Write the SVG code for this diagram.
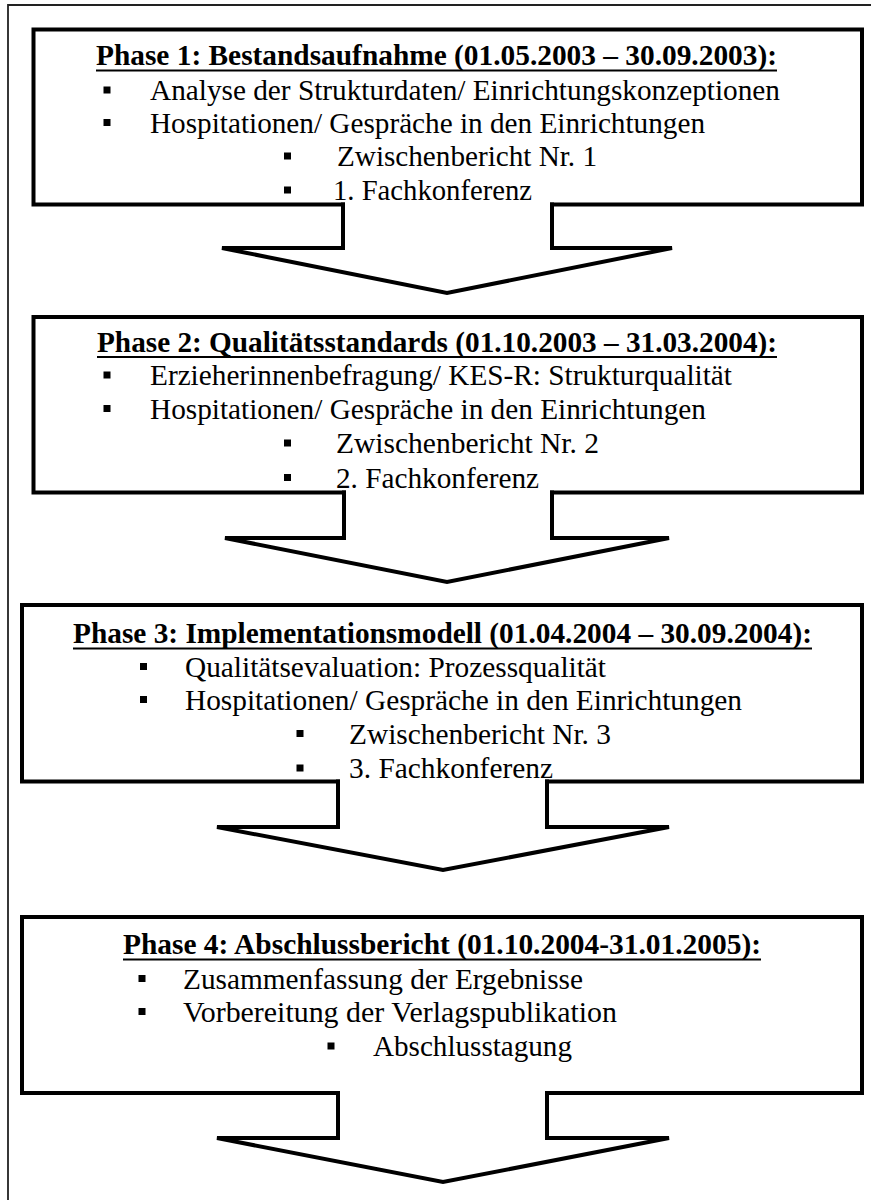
<svg xmlns="http://www.w3.org/2000/svg" width="871" height="1200" viewBox="0 0 871 1200">
<style>
.frame{fill:none;stroke:#222;stroke-width:1.8}
.box{fill:none;stroke:#000;stroke-width:4;stroke-linecap:square;stroke-linejoin:miter}
.arrow{fill:none;stroke:#000;stroke-width:4;stroke-linecap:square;stroke-linejoin:miter}
.t{font-family:"Liberation Serif","Times New Roman",serif;font-size:30px;fill:#000}
.h{font-weight:bold}
.ul{stroke:#000;stroke-width:2}
.b{fill:#000}
</style>
<rect width="871" height="1200" fill="#fff"/>
<path class="frame" d="M8,1200 V5 H871"/>

<g id="phase1">
<path class="box" d="M343,204.5 H33.5 V29.5 H862 V204.5 H552"/>
<text class="t h" x="96" y="65" textLength="681" lengthAdjust="spacingAndGlyphs">Phase 1: Bestandsaufnahme (01.05.2003 – 30.09.2003):</text>
<line class="ul" x1="96" y1="70.5" x2="777" y2="70.5"/>
<rect class="b" x="103.5" y="86.5" width="7" height="7"/>
<text class="t" x="150" y="100" textLength="630" lengthAdjust="spacingAndGlyphs">Analyse der Strukturdaten/ Einrichtungskonzeptionen</text>
<rect class="b" x="103.5" y="119" width="7" height="7"/>
<text class="t" x="150" y="132.5" textLength="555" lengthAdjust="spacingAndGlyphs">Hospitationen/ Gespräche in den Einrichtungen</text>
<rect class="b" x="284" y="152.5" width="7" height="7"/>
<text class="t" x="337" y="166" textLength="260" lengthAdjust="spacingAndGlyphs">Zwischenbericht Nr. 1</text>
<rect class="b" x="284" y="186.5" width="7" height="7"/>
<text class="t" x="333" y="200" textLength="199" lengthAdjust="spacingAndGlyphs">1. Fachkonferenz</text>
</g>

<g id="phase2">
<path class="box" d="M344,492.5 H33.5 V317 H862 V492.5 H552"/>
<text class="t h" x="97" y="351.5" textLength="680" lengthAdjust="spacingAndGlyphs">Phase 2: Qualitätsstandards (01.10.2003 – 31.03.2004):</text>
<line class="ul" x1="97" y1="357" x2="777" y2="357"/>
<rect class="b" x="103.5" y="371.5" width="7" height="7"/>
<text class="t" x="150" y="385" textLength="582" lengthAdjust="spacingAndGlyphs">Erzieherinnenbefragung/ KES-R: Strukturqualität</text>
<rect class="b" x="103.5" y="405" width="7" height="7"/>
<text class="t" x="150" y="418.5" textLength="556" lengthAdjust="spacingAndGlyphs">Hospitationen/ Gespräche in den Einrichtungen</text>
<rect class="b" x="284" y="439.5" width="7" height="7"/>
<text class="t" x="336" y="453" textLength="263" lengthAdjust="spacingAndGlyphs">Zwischenbericht Nr. 2</text>
<rect class="b" x="284" y="474" width="7" height="7"/>
<text class="t" x="336" y="487.5" textLength="203" lengthAdjust="spacingAndGlyphs">2. Fachkonferenz</text>
</g>

<g id="phase3">
<path class="box" d="M338,781.5 H22 V605 H862 V781.5 H547"/>
<text class="t h" x="73" y="643" textLength="739" lengthAdjust="spacingAndGlyphs">Phase 3: Implementationsmodell (01.04.2004 – 30.09.2004):</text>
<line class="ul" x1="73" y1="648.5" x2="812" y2="648.5"/>
<rect class="b" x="140" y="663" width="7" height="7"/>
<text class="t" x="185" y="676.5" textLength="421" lengthAdjust="spacingAndGlyphs">Qualitätsevaluation: Prozessqualität</text>
<rect class="b" x="140" y="696" width="7" height="7"/>
<text class="t" x="185" y="709.5" textLength="557" lengthAdjust="spacingAndGlyphs">Hospitationen/ Gespräche in den Einrichtungen</text>
<rect class="b" x="296.5" y="730" width="7" height="7"/>
<text class="t" x="349" y="743.5" textLength="262" lengthAdjust="spacingAndGlyphs">Zwischenbericht Nr. 3</text>
<rect class="b" x="296.5" y="764.5" width="7" height="7"/>
<text class="t" x="349" y="778" textLength="204" lengthAdjust="spacingAndGlyphs">3. Fachkonferenz</text>
</g>

<g id="phase4">
<path class="box" d="M338,1093 H22 V917 H862 V1093 H547"/>
<text class="t h" x="123" y="954" textLength="638" lengthAdjust="spacingAndGlyphs">Phase 4: Abschlussbericht (01.10.2004-31.01.2005):</text>
<line class="ul" x1="123" y1="959.5" x2="761" y2="959.5"/>
<rect class="b" x="138.5" y="975" width="7" height="7"/>
<text class="t" x="183" y="988.5" textLength="400" lengthAdjust="spacingAndGlyphs">Zusammenfassung der Ergebnisse</text>
<rect class="b" x="138.5" y="1008" width="7" height="7"/>
<text class="t" x="183" y="1021.5" textLength="434" lengthAdjust="spacingAndGlyphs">Vorbereitung der Verlagspublikation</text>
<rect class="b" x="327.5" y="1042.5" width="7" height="7"/>
<text class="t" x="373" y="1056" textLength="199" lengthAdjust="spacingAndGlyphs">Abschlusstagung</text>
</g>

<g id="connectors">
<path class="arrow" d="M343,204.5 V248 H222 L447,293 L672,248 H552 V204.5"/>
<path class="arrow" d="M344,492.5 V538 H225 L447,582 L669,538 H552 V492.5"/>
<path class="arrow" d="M338,781.5 V827 H217 L443,870 L669,827 H547 V781.5"/>
<path class="arrow" d="M338,1093 V1138 H217 L443,1182 L669,1138 H547 V1093"/>
</g>
</svg>
